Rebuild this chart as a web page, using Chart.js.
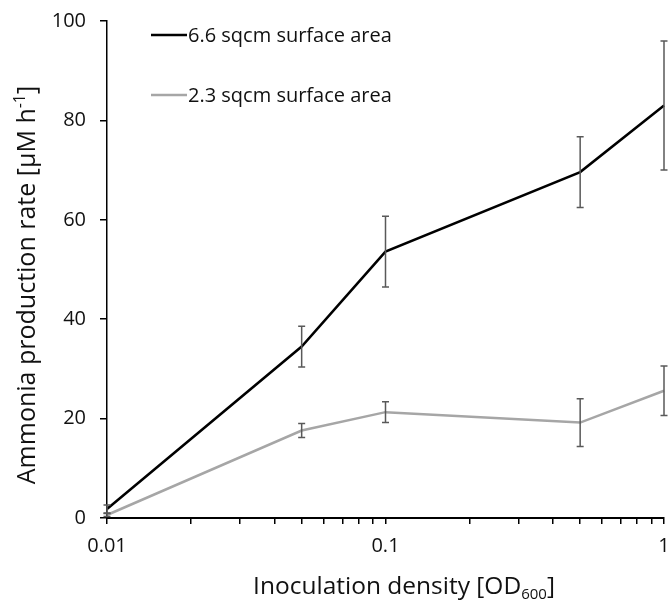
<!DOCTYPE html>
<html>
<head>
<meta charset="utf-8">
<script src="https://cdn.jsdelivr.net/npm/chart.js@4.4.1/dist/chart.umd.min.js"></script>
<style>
  html, body { margin: 0; padding: 0; background: #fff; }
  #wrap { width: 670px; height: 605px; }
</style>
</head>
<body>
<div id="wrap"><canvas id="chart"></canvas></div>
<script>
// data
const densities = [0.01, 0.05, 0.1, 0.5, 1];
const seriesNames = ["6.6 sqcm surface area", "2.3 sqcm surface area"];
const rateLarge = [1.8, 34.5, 53.6, 69.6, 83.0];
const errLarge = [0.8, 4.1, 7.1, 7.1, 13.0];
const rateSmall = [0.6, 17.6, 21.3, 19.2, 25.6];
const errSmall = [0.3, 1.4, 2.1, 4.8, 5.0];

const xTicks = [0.01, 0.02, 0.03, 0.04, 0.05, 0.06, 0.07, 0.08, 0.09,
                0.1, 0.2, 0.3, 0.4, 0.5, 0.6, 0.7, 0.8, 0.9, 1];
const xLabels = [0.01, 0.1, 1];
const yTicks = [0, 20, 40, 60, 80, 100];

// titles as [text, shift] pieces so sub/superscripts can be drawn
const xTitle = [["Inoculation density [OD", ""], ["600", "sub"], ["]", ""]];
const yTitle = [["Ammonia production rate [\u03bcM h", ""], ["-1", "sup"], ["]", ""]];

const FONT = "'Open Sans'";
const TEXT = "#111111";

function toPoints(vals) {
    return densities.map((d, i) => ({ x: d, y: vals[i] }));
}

// draws a title made of pieces, centered on (0,0) horizontally, baseline at y=0
function drawRich(ctx, parts, size) {
    const small = Math.round(size * 0.62);
    let total = 0;
    parts.forEach(([t, s]) => {
        ctx.font = (s ? small : size) + "px " + FONT;
        total += ctx.measureText(t).width;
    });
    let x = -total / 2;
    ctx.textAlign = "left";
    ctx.textBaseline = "alphabetic";
    parts.forEach(([t, s]) => {
        ctx.font = (s ? small : size) + "px " + FONT;
        let dy = 0;
        if (s === "sub") dy = size * 0.22;
        if (s === "sup") dy = -size * 0.4;
        ctx.fillText(t, x, dy);
        x += ctx.measureText(t).width;
    });
}

const titlePlugin = {
    id: "axisTitles",
    afterDraw(chart) {
        const ctx = chart.ctx;
        const area = chart.chartArea;
        ctx.save();
        ctx.fillStyle = TEXT;
        // x title
        ctx.save();
        ctx.translate(area.left + 297, area.bottom + 76);
        drawRich(ctx, xTitle, 24.5);
        ctx.restore();
        // y title
        ctx.save();
        ctx.translate(35, area.top + 264);
        ctx.rotate(-Math.PI / 2);
        drawRich(ctx, yTitle, 25);
        ctx.restore();
        ctx.restore();
    }
};

const legendPlugin = {
    id: "insideLegend",
    afterDraw(chart) {
        const ctx = chart.ctx;
        const area = chart.chartArea;
        ctx.save();
        ctx.font = "20px " + FONT;
        ctx.textBaseline = "middle";
        ctx.textAlign = "left";
        chart.data.datasets.forEach((ds, i) => {
            const y = area.top + 14 + i * 60;
            const x0 = area.left + 44;
            ctx.strokeStyle = ds.borderColor;
            ctx.lineWidth = ds.borderWidth;
            ctx.beginPath();
            ctx.moveTo(x0, y);
            ctx.lineTo(x0 + 36, y);
            ctx.stroke();
            ctx.fillStyle = TEXT;
            ctx.fillText(ds.label, x0 + 37, y + 1);
        });
        ctx.restore();
    }
};

const errorBarPlugin = {
    id: "errorBars",
    afterDatasetsDraw(chart) {
        const ctx = chart.ctx;
        const xs = chart.scales.x, ys = chart.scales.y;
        ctx.save();
        ctx.strokeStyle = "#595959";
        ctx.lineWidth = 1.5;
        chart.data.datasets.forEach(ds => {
            ds.data.forEach((p, i) => {
                const e = ds.errors[i];
                const px = xs.getPixelForValue(p.x);
                const top = ys.getPixelForValue(p.y + e);
                const bot = ys.getPixelForValue(p.y - e);
                ctx.beginPath();
                ctx.moveTo(px, top); ctx.lineTo(px, bot);
                ctx.moveTo(px - 3.5, top); ctx.lineTo(px + 3.5, top);
                ctx.moveTo(px - 3.5, bot); ctx.lineTo(px + 3.5, bot);
                ctx.stroke();
            });
        });
        ctx.restore();
    }
};

const tickFont = { family: "Open Sans", size: 20 };

new Chart(document.getElementById("chart"), {
    type: "line",
    data: {
        datasets: [
            {
                label: seriesNames[0],
                data: toPoints(rateLarge),
                errors: errLarge,
                borderColor: "#000000",
                borderWidth: 2.5,
                pointRadius: 0,
                tension: 0
            },
            {
                label: seriesNames[1],
                data: toPoints(rateSmall),
                errors: errSmall,
                borderColor: "#a6a6a6",
                borderWidth: 2.5,
                pointRadius: 0,
                tension: 0
            }
        ]
    },
    options: {
        responsive: true,
        maintainAspectRatio: false,
        animation: false,
        clip: false,
        layout: { padding: { top: 21, right: 6, left: 0, bottom: 0 } },
        plugins: {
            legend: { display: false },
            tooltip: { enabled: false }
        },
        scales: {
            x: {
                type: "logarithmic",
                min: 0.01,
                max: 1,
                afterBuildTicks: s => { s.ticks = xTicks.map(v => ({ value: v })); },
                afterFit: s => { s.height = 87; s.paddingLeft = 0; s.paddingRight = 0; },
                ticks: {
                    autoSkip: false,
                    maxRotation: 0,
                    padding: 10,
                    font: tickFont,
                    color: TEXT,
                    callback: v => xLabels.includes(v) ? String(v) : ""
                },
                grid: { drawOnChartArea: false, tickLength: 6, color: "#000", lineWidth: 1.5 },
                border: { color: "#000", width: 2 }
            },
            y: {
                min: 0,
                max: 100,
                afterBuildTicks: s => { s.ticks = yTicks.map(v => ({ value: v })); },
                afterFit: s => { s.width = 107; s.paddingTop = 0; s.paddingBottom = 0; },
                ticks: { padding: 14, font: tickFont, color: TEXT },
                grid: { drawOnChartArea: false, tickLength: 7, color: "#000", lineWidth: 1.5 },
                border: { color: "#000", width: 1.5 }
            }
        }
    },
    plugins: [errorBarPlugin, legendPlugin, titlePlugin]
});
</script>
</body>
</html>
